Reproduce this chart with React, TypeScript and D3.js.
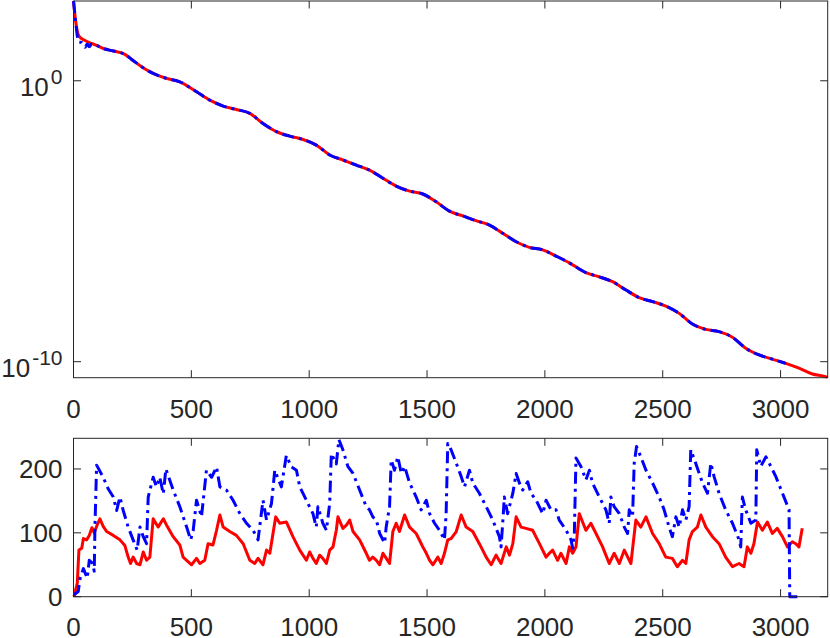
import React from 'react';
import * as d3 from 'd3';

// ---------- data ----------
const xTicks = [0, 500, 1000, 1500, 2000, 2500, 3000];
const topYTickExps = [0, -10];
const bottomYTicks = [0, 100, 200];

// top panel: [iteration, log10(residual)]
const redTopHead: [number, number][] = [
  [0, 2.84], [8, 2.2], [18, 1.7], [25, 1.57], [45, 1.45], [70, 1.35], [90, 1.29],
];
const blueTopHead: [number, number][] = [
  [0, 2.84], [8, 2.2], [16, 1.6], [21, 1.39], [35, 1.36], [49, 1.19], [58, 1.31], [67, 1.21], [77, 1.31], [90, 1.29],
];
const topShared: [number, number][] = [
  [126, 1.15], [169, 1.06], [218, 0.94], [247, 0.76], [289, 0.5], [338, 0.26], [395, 0.085],
  [451, -0.036], [522, -0.39], [578, -0.69], [635, -0.9], [691, -1.02], [748, -1.16], [804, -1.52],
  [861, -1.81], [917, -1.97], [974, -2.09], [1030, -2.29], [1087, -2.64], [1143, -2.82], [1200, -3.0],
  [1256, -3.18], [1313, -3.47], [1369, -3.75], [1426, -3.93], [1482, -4.03], [1539, -4.31],
  [1595, -4.64], [1652, -4.81], [1708, -4.98], [1765, -5.14], [1821, -5.43], [1878, -5.73],
  [1934, -5.93], [1991, -6.02], [2047, -6.24], [2104, -6.48], [2174, -6.83], [2231, -6.98],
  [2287, -7.15], [2344, -7.45], [2400, -7.72], [2457, -7.86], [2513, -8.02], [2570, -8.28],
  [2626, -8.66], [2683, -8.85], [2739, -8.93], [2796, -9.13], [2852, -9.52], [2909, -9.76],
  [2965, -9.91], [3022, -10.06],
];
const redTopTail: [number, number][] = [
  [3078, -10.23], [3135, -10.44], [3191, -10.53], [3198, -10.57],
];

// bottom panel: [iteration, count]
const redBottom: [number, number][] = [
  [2, 0], [16, 21], [23, 73], [35, 76], [42, 91], [56, 89], [67, 96], [78, 108], [88, 100], [98, 110],
  [112, 122], [126, 110], [141, 102], [169, 96], [197, 89], [218, 80], [232, 62], [242, 52], [253, 62],
  [268, 52], [282, 50], [296, 70], [310, 57], [324, 62], [338, 122], [359, 109], [381, 122], [395, 112],
  [423, 94], [451, 81], [465, 62], [480, 57], [501, 50], [522, 60], [536, 52], [557, 57], [571, 83],
  [592, 81], [607, 104], [621, 128], [635, 109], [663, 102], [691, 96], [720, 83], [748, 57], [769, 52],
  [783, 60], [804, 50], [819, 73], [833, 68], [847, 100], [858, 125], [875, 115], [903, 117], [931, 94],
  [960, 73], [988, 57], [1002, 70], [1016, 60], [1030, 52], [1044, 65], [1058, 60], [1073, 52],
  [1087, 73], [1101, 78], [1115, 104], [1122, 125], [1143, 107], [1158, 112], [1172, 120], [1186, 102],
  [1214, 89], [1242, 68], [1256, 57], [1270, 62], [1285, 57], [1299, 50], [1313, 68], [1327, 60],
  [1341, 52], [1355, 102], [1369, 115], [1383, 102], [1405, 128], [1426, 109], [1454, 99], [1482, 78],
  [1497, 68], [1511, 57], [1525, 50], [1546, 62], [1560, 52], [1574, 68], [1588, 89], [1602, 91],
  [1624, 102], [1645, 128], [1666, 109], [1694, 102], [1722, 83], [1751, 62], [1772, 50], [1793, 65],
  [1814, 52], [1836, 78], [1850, 65], [1864, 83], [1878, 125], [1899, 109], [1920, 107], [1948, 104],
  [1977, 83], [2005, 62], [2019, 68], [2033, 73], [2054, 57], [2068, 68], [2090, 52], [2104, 78],
  [2118, 68], [2132, 78], [2146, 130], [2174, 104], [2195, 115], [2217, 99], [2245, 78], [2273, 52],
  [2294, 68], [2316, 52], [2337, 73], [2365, 52], [2386, 120], [2407, 109], [2429, 125], [2457, 99],
  [2485, 83], [2513, 62], [2541, 60], [2562, 47], [2584, 57], [2598, 52], [2612, 89], [2626, 102],
  [2647, 109], [2662, 128], [2683, 109], [2711, 94], [2739, 83], [2767, 62], [2796, 47], [2824, 52],
  [2845, 47], [2859, 78], [2874, 68], [2887, 83], [2902, 117], [2923, 104], [2944, 117], [2965, 99],
  [2986, 107], [3008, 94], [3029, 78], [3050, 86], [3064, 83], [3078, 78], [3092, 107],
];
const blueBottom: [number, number][] = [
  [2, 3], [20, 8], [28, 29], [42, 44], [58, 29], [67, 57], [81, 52], [88, 40], [91, 109], [98, 206],
  [126, 187], [147, 169], [169, 156], [183, 135], [197, 156], [211, 135], [232, 109], [253, 89],
  [270, 73], [282, 109], [296, 94], [310, 83], [317, 156], [338, 187], [352, 172], [366, 187],
  [381, 161], [392, 200], [423, 167], [451, 141], [480, 109], [497, 89], [508, 104], [522, 151],
  [543, 125], [564, 198], [586, 187], [607, 203], [621, 172], [649, 167], [677, 151], [706, 130],
  [734, 115], [762, 104], [783, 89], [804, 151], [819, 120], [840, 146], [854, 198], [882, 172],
  [903, 221], [925, 203], [946, 198], [960, 172], [988, 151], [1016, 130], [1030, 109], [1037, 141],
  [1058, 115], [1073, 104], [1087, 146], [1094, 224], [1115, 208], [1126, 246], [1143, 230],
  [1164, 204], [1186, 193], [1214, 167], [1242, 141], [1256, 136], [1270, 125], [1285, 120],
  [1299, 99], [1320, 84], [1327, 110], [1341, 141], [1348, 214], [1362, 198], [1376, 219],
  [1391, 193], [1405, 204], [1426, 178], [1454, 156], [1475, 136], [1497, 151], [1511, 130],
  [1532, 115], [1553, 104], [1574, 89], [1581, 130], [1588, 240], [1602, 230], [1624, 209],
  [1645, 188], [1659, 172], [1680, 198], [1694, 178], [1722, 162], [1751, 141], [1779, 120],
  [1807, 94], [1814, 78], [1821, 115], [1828, 156], [1842, 130], [1864, 162], [1878, 193],
  [1892, 178], [1906, 167], [1927, 180], [1941, 162], [1963, 151], [1991, 130], [2005, 151],
  [2026, 136], [2047, 136], [2061, 120], [2090, 104], [2111, 89], [2118, 76], [2125, 99], [2132, 217],
  [2153, 204], [2174, 183], [2189, 198], [2202, 178], [2231, 156], [2259, 136], [2273, 115],
  [2280, 156], [2294, 141], [2316, 130], [2337, 109], [2351, 99], [2358, 136], [2372, 125],
  [2379, 209], [2389, 235], [2407, 219], [2429, 198], [2457, 178], [2485, 156], [2506, 136],
  [2527, 109], [2541, 94], [2556, 125], [2570, 109], [2584, 136], [2598, 120], [2612, 141],
  [2619, 230], [2640, 209], [2669, 178], [2690, 162], [2704, 209], [2718, 188], [2739, 162],
  [2767, 136], [2796, 115], [2824, 89], [2831, 78], [2838, 156], [2852, 136], [2874, 115],
  [2895, 120], [2899, 230], [2916, 204], [2938, 219], [2952, 209], [2980, 188], [3008, 162],
  [3036, 136], [3039, 0], [3092, 0],
];

const redTop = [...redTopHead, ...topShared, ...redTopTail];
const blueTop = [...blueTopHead, ...topShared];

// ---------- style ----------
const AXIS = '#262626';
const FONT = '"Liberation Sans", Arial, Helvetica, sans-serif';
const RED = '#ff0000';
const BLUE = '#0000ff';
const DASHDOT = '12,5,3,5';

export default function App() {
  const W = 830;
  const H = 638;
  const left = 73.5;
  const right = 827.7;
  const topA = { top: 1, bottom: 377.7, label: 418.3 };
  const botA = { top: 438.3, bottom: 596.7, label: 636 };
  const tickLen = 7.5;

  const x = d3.scaleLinear().domain([0, 3200]).range([left, right]);
  const yTop = d3.scaleLog().domain([Math.pow(10, -10.57), Math.pow(10, 2.84)]).range([topA.bottom, topA.top]);
  const yBot = d3.scaleLinear().domain([0, 248]).range([botA.bottom, botA.top]);

  const lineTop = d3
    .line<[number, number]>()
    .x((d) => x(d[0]))
    .y((d) => yTop(Math.pow(10, d[1])))
    .curve(d3.curveMonotoneX);
  const lineBot = d3
    .line<[number, number]>()
    .x((d) => x(d[0]))
    .y((d) => yBot(d[1]));

  const box = (a: { top: number; bottom: number }) => (
    <rect
      x={left}
      y={a.top}
      width={right - left}
      height={a.bottom - a.top}
      fill="none"
      stroke={AXIS}
      strokeWidth={1}
    />
  );

  const xTickMarks = (a: { top: number; bottom: number; label: number }, key: string) =>
    xTicks.map((t) => (
      <g key={key + t}>
        <line x1={x(t)} x2={x(t)} y1={a.bottom} y2={a.bottom - tickLen} stroke={AXIS} strokeWidth={1} />
        <line x1={x(t)} x2={x(t)} y1={a.top} y2={a.top + tickLen} stroke={AXIS} strokeWidth={1} />
        <text x={x(t)} y={a.label} textAnchor="middle" fontSize={26} fill={AXIS} fontFamily={FONT}>
          {t}
        </text>
      </g>
    ));

  return (
    <svg width={W} height={H} style={{ position: 'absolute', left: 0, top: 0, background: '#fff' }}>
      <rect x={0} y={0} width={W} height={H} fill="#fff" />

      {/* top panel */}
      <path d={lineTop(redTop) || ''} fill="none" stroke={RED} strokeWidth={3} strokeLinejoin="round" />
      <path
        d={lineTop(blueTop) || ''}
        fill="none"
        stroke={BLUE}
        strokeWidth={3}
        strokeDasharray={DASHDOT}
        strokeLinejoin="round"
      />
      {box(topA)}
      {xTickMarks(topA, 't')}
      {topYTickExps.map((e) => {
        const yy = yTop(Math.pow(10, e));
        return (
          <g key={'ty' + e}>
            <line x1={left} x2={left + tickLen} y1={yy} y2={yy} stroke={AXIS} strokeWidth={1} />
            <line x1={right} x2={right - tickLen} y1={yy} y2={yy} stroke={AXIS} strokeWidth={1} />
            <text x={62.5} y={yy + 15.3} textAnchor="end" fontSize={26} fill={AXIS} fontFamily={FONT}>
              <tspan>10</tspan>
              <tspan dx={2} dy={-12} fontSize={21}>
                {String(e)}
              </tspan>
            </text>
          </g>
        );
      })}

      {/* bottom panel */}
      <path d={lineBot(redBottom) || ''} fill="none" stroke={RED} strokeWidth={3} strokeLinejoin="round" />
      <path
        d={lineBot(blueBottom) || ''}
        fill="none"
        stroke={BLUE}
        strokeWidth={3}
        strokeDasharray={DASHDOT}
        strokeLinejoin="round"
      />
      {box(botA)}
      {xTickMarks(botA, 'b')}
      {bottomYTicks.map((t) => {
        const yy = yBot(t);
        return (
          <g key={'by' + t}>
            <line x1={left} x2={left + tickLen} y1={yy} y2={yy} stroke={AXIS} strokeWidth={1} />
            <line x1={right} x2={right - tickLen} y1={yy} y2={yy} stroke={AXIS} strokeWidth={1} />
            <text x={62.5} y={yy + 9.3} textAnchor="end" fontSize={26} fill={AXIS} fontFamily={FONT}>
              {t}
            </text>
          </g>
        );
      })}
    </svg>
  );
}
